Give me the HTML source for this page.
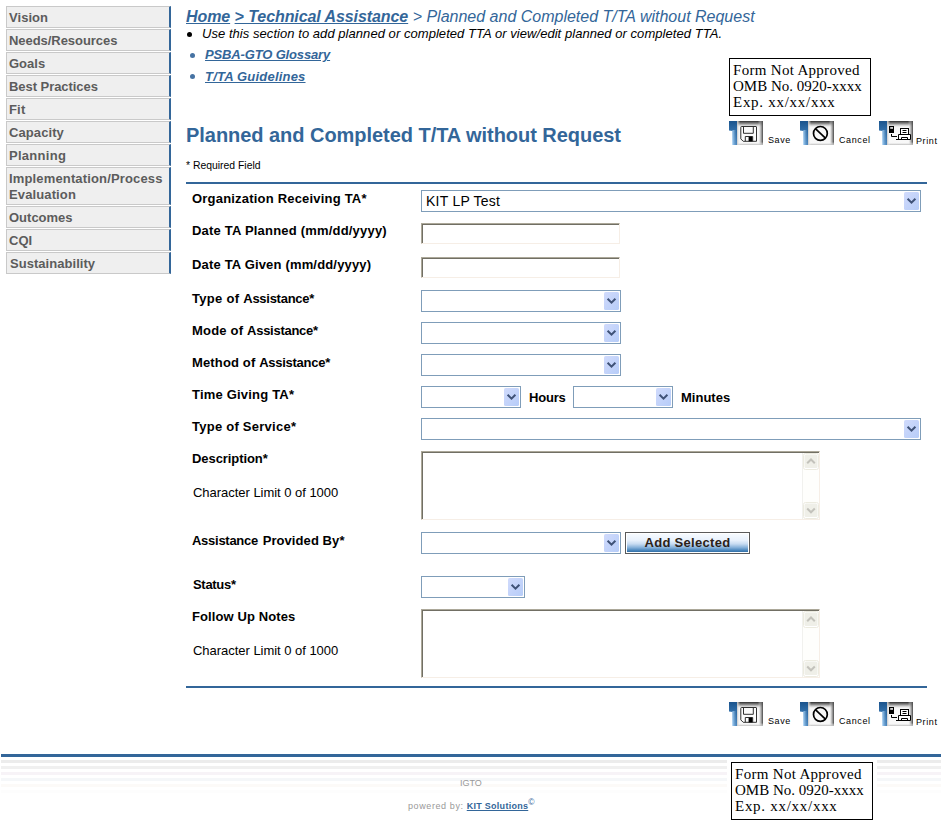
<!DOCTYPE html>
<html>
<head>
<meta charset="utf-8">
<title>Planned and Completed T/TA without Request</title>
<style>
html,body{margin:0;padding:0;background:#fff;}
body{width:943px;height:833px;position:relative;overflow:hidden;font-family:"Liberation Sans",sans-serif;color:#000;}
.abs{position:absolute;white-space:nowrap;}
.mi{position:absolute;left:6px;width:160px;background:#efefef;border:1px solid #c9c9c9;border-right:2px solid #336699;font-weight:bold;font-size:13px;color:#5c5c5c;line-height:16px;padding:3px 0 1px 2px;height:16px;white-space:nowrap;}
.mi.two{height:32px;}
.bc{left:186px;top:7px;font-size:16px;font-style:italic;color:#336699;line-height:19px;}
.bc b{text-decoration:underline;letter-spacing:-0.08px;}
.lk{font-size:13px;font-style:italic;font-weight:bold;color:#336699;text-decoration:underline;line-height:15px;}
.dot{position:absolute;border-radius:50%;width:5px;height:5px;}
h1{position:absolute;margin:0;left:186px;top:123px;font-size:20px;line-height:24px;color:#336699;font-weight:bold;white-space:nowrap;letter-spacing:-0.04px;}
.lbl{position:absolute;left:192px;font-size:13px;font-weight:bold;line-height:15px;white-space:nowrap;letter-spacing:0.2px;}
.cl{position:absolute;left:193px;font-size:13px;line-height:15px;white-space:nowrap;letter-spacing:-0.03px;}
.sel{position:absolute;box-sizing:border-box;background:#fff;border:1px solid #7f9db9;height:22px;left:421px;}
.sel svg{position:absolute;right:1px;top:1px;display:block;}
.sel span{position:absolute;left:4px;top:2px;font-size:14px;line-height:16px;white-space:nowrap;letter-spacing:0.24px;}
.inp{position:absolute;left:421px;box-sizing:border-box;background:#fff;border:1px solid;border-color:#aca899 #f6eee6 #f6eee6 #aca899;box-shadow:inset 1px 1px 0 #716f64;}
.ta{position:absolute;left:421px;width:399px;height:69px;box-sizing:border-box;background:#fff;border:1px solid;border-color:#aca899 #f6eee6 #f6eee6 #aca899;box-shadow:inset 1px 1px 0 #716f64;}
.ta .sb{position:absolute;right:0;top:1px;bottom:0;width:17px;background:#fefefc;border-left:1px solid #f1f1ee;box-sizing:border-box;}
.ta .sb svg{position:absolute;left:0;display:block;}
.omb{position:absolute;box-sizing:border-box;border:1px solid #000;background:#fff;font-family:"Liberation Serif",serif;font-size:15px;line-height:16px;padding:3px 0 0 3px;white-space:nowrap;width:142px;height:58px;}
.omb span{display:block;height:16px;}
.tb{position:absolute;font-size:9px;line-height:11px;white-space:nowrap;}
.ico{position:absolute;width:34px;height:24px;display:block;}
.btn{position:absolute;left:625px;top:532px;width:125px;height:22px;box-sizing:border-box;border:1px solid #5a5a5a;background:#fff;}
.btn div{position:absolute;left:1px;top:1px;right:1px;bottom:1px;background:linear-gradient(#f6faff 0%,#e8f1fc 35%,#c8dcf2 55%,#86b1da 75%,#4683ba 92%,#336fa5 100%);font-weight:bold;font-size:13px;line-height:15px;text-align:center;color:#2b2118;letter-spacing:0.3px;padding-top:1px;}
.ft{position:absolute;left:1px;width:940px;}
</style>
</head>
<body>
<!-- sidebar -->
<div class="mi" style="top:6px;letter-spacing:0.04px">Vision</div>
<div class="mi" style="top:29px;letter-spacing:-0.05px">Needs/Resources</div>
<div class="mi" style="top:52px;letter-spacing:0px">Goals</div>
<div class="mi" style="top:75px;letter-spacing:-0.05px">Best Practices</div>
<div class="mi" style="top:98px;letter-spacing:0.17px">Fit</div>
<div class="mi" style="top:121px;letter-spacing:0.09px">Capacity</div>
<div class="mi" style="top:144px;letter-spacing:0.28px">Planning</div>
<div class="mi two" style="top:167px;letter-spacing:0.125px"><span style="letter-spacing:0.15px">Implementation/Process</span><br>Evaluation</div>
<div class="mi" style="top:206px;letter-spacing:0px">Outcomes</div>
<div class="mi" style="top:229px;letter-spacing:0px">CQI</div>
<div class="mi" style="top:252px;letter-spacing:0.04px"><span style="margin-left:1px">Sustainability</span></div>

<!-- breadcrumb -->
<div class="abs bc"><b>Home</b> <b>&gt; Technical Assistance</b> &gt; Planned and Completed T/TA without Request</div>
<div class="dot" style="left:187px;top:32px;background:#000"></div>
<div class="abs" style="left:202px;top:26px;font-size:13px;font-style:italic;line-height:15px;letter-spacing:0.05px;">Use this section to add planned or completed TTA or view/edit planned or completed TTA.</div>
<div class="dot" style="left:190px;top:53px;background:#4673a3"></div>
<div class="abs lk" style="left:205px;top:47px;letter-spacing:-0.15px;">PSBA-GTO Glossary</div>
<div class="dot" style="left:190px;top:74px;background:#4673a3"></div>
<div class="abs lk" style="left:205px;top:69px;letter-spacing:0.2px;">T/TA Guidelines</div>

<h1>Planned and Completed T/TA without Request</h1>
<div class="abs" style="left:186px;top:160px;font-size:10.4px;line-height:12px;">* Required Field</div>

<!-- OMB boxes -->
<div class="omb" style="left:729px;top:58px;"><span style="letter-spacing:0.3px">Form Not Approved</span><span style="letter-spacing:0px">OMB No. 0920-xxxx</span><span style="letter-spacing:0.72px">Exp. xx/xx/xxx</span></div>

<!-- form rules -->
<div style="position:absolute;left:186px;top:182px;width:741px;height:2px;background:#336699"></div>
<div style="position:absolute;left:186px;top:686px;width:741px;height:2px;background:#336699"></div>
<!-- labels -->
<div class="lbl" style="left:192px;top:191px;letter-spacing:0.2px">Organization Receiving TA*</div>
<div class="lbl" style="left:192px;top:223px;letter-spacing:0.2px">Date TA Planned (mm/dd/yyyy)</div>
<div class="lbl" style="left:192px;top:257px;letter-spacing:0.17px">Date TA Given (mm/dd/yyyy)</div>
<div class="lbl" style="left:192px;top:291px;letter-spacing:0.3px">Type of <span style="letter-spacing:-0.27px">Assistance</span>*</div>
<div class="lbl" style="left:192px;top:323px;letter-spacing:0.2px">Mode of <span style="letter-spacing:-0.27px">Assistance</span>*</div>
<div class="lbl" style="left:192px;top:355px;letter-spacing:0.15px">Method of <span style="letter-spacing:-0.27px">Assistance</span>*</div>
<div class="lbl" style="left:192px;top:387px;letter-spacing:0.2px">Time Giving TA*</div>
<div class="lbl" style="left:192px;top:419px;letter-spacing:0.25px">Type of Service*</div>
<div class="lbl" style="left:192px;top:451px;letter-spacing:-0.07px">Description*</div>
<div class="lbl" style="left:192px;top:533px;letter-spacing:0.08px"><span style="letter-spacing:-0.27px">Assistance</span><span style="margin-left:1px">&nbsp;Provided By*</span></div>
<div class="lbl" style="left:193px;top:577px;letter-spacing:-0.3px">Status*</div>
<div class="lbl" style="left:192px;top:609px;letter-spacing:0.1px">Follow Up Notes</div>
<div class="lbl" style="left:529px;top:390px;letter-spacing:-0.2px">Hours</div>
<div class="lbl" style="left:681px;top:390px;letter-spacing:0px">Minutes</div>
<div class="cl" style="top:485px">Character Limit 0 of 1000</div>
<div class="cl" style="top:643px">Character Limit 0 of 1000</div>
<!-- controls -->
<div class="sel" style="top:190px;width:500px"><span>KIT LP Test</span><svg width="15" height="18" viewBox="0 0 15 18"><defs><linearGradient id="G" x1="0" y1="0" x2="1" y2="1"><stop offset="0" stop-color="#d1dbfc"/><stop offset="1" stop-color="#b6ccf8"/></linearGradient></defs><rect x="0" y="0" width="15" height="18" rx="1.5" fill="url(#G)"/><path d="M3.6 6.8 L7.5 10.7 L11.4 6.8" stroke="#3f5277" stroke-width="2" fill="none"/></svg></div>
<div class="sel" style="top:290px;width:200px"><svg width="15" height="18" viewBox="0 0 15 18"><rect x="0" y="0" width="15" height="18" rx="1.5" fill="url(#G)"/><path d="M3.6 6.8 L7.5 10.7 L11.4 6.8" stroke="#3f5277" stroke-width="2" fill="none"/></svg></div>
<div class="sel" style="top:322px;width:200px"><svg width="15" height="18" viewBox="0 0 15 18"><rect x="0" y="0" width="15" height="18" rx="1.5" fill="url(#G)"/><path d="M3.6 6.8 L7.5 10.7 L11.4 6.8" stroke="#3f5277" stroke-width="2" fill="none"/></svg></div>
<div class="sel" style="top:354px;width:200px"><svg width="15" height="18" viewBox="0 0 15 18"><rect x="0" y="0" width="15" height="18" rx="1.5" fill="url(#G)"/><path d="M3.6 6.8 L7.5 10.7 L11.4 6.8" stroke="#3f5277" stroke-width="2" fill="none"/></svg></div>
<div class="sel" style="top:386px;width:100px"><svg width="15" height="18" viewBox="0 0 15 18"><rect x="0" y="0" width="15" height="18" rx="1.5" fill="url(#G)"/><path d="M3.6 6.8 L7.5 10.7 L11.4 6.8" stroke="#3f5277" stroke-width="2" fill="none"/></svg></div>
<div class="sel" style="top:418px;width:500px"><svg width="15" height="18" viewBox="0 0 15 18"><rect x="0" y="0" width="15" height="18" rx="1.5" fill="url(#G)"/><path d="M3.6 6.8 L7.5 10.7 L11.4 6.8" stroke="#3f5277" stroke-width="2" fill="none"/></svg></div>
<div class="sel" style="top:532px;width:200px"><svg width="15" height="18" viewBox="0 0 15 18"><rect x="0" y="0" width="15" height="18" rx="1.5" fill="url(#G)"/><path d="M3.6 6.8 L7.5 10.7 L11.4 6.8" stroke="#3f5277" stroke-width="2" fill="none"/></svg></div>
<div class="sel" style="top:576px;width:104px"><svg width="15" height="18" viewBox="0 0 15 18"><rect x="0" y="0" width="15" height="18" rx="1.5" fill="url(#G)"/><path d="M3.6 6.8 L7.5 10.7 L11.4 6.8" stroke="#3f5277" stroke-width="2" fill="none"/></svg></div>
<div class="sel" style="left:573px;top:386px;width:100px"><svg width="15" height="18" viewBox="0 0 15 18"><rect x="0" y="0" width="15" height="18" rx="1.5" fill="url(#G)"/><path d="M3.6 6.8 L7.5 10.7 L11.4 6.8" stroke="#3f5277" stroke-width="2" fill="none"/></svg></div>
<div class="inp" style="top:223px;width:199px;height:21px"></div>
<div class="inp" style="top:257px;width:199px;height:21px"></div>
<div class="ta" style="top:451px"><div class="sb"><svg width="16" height="17" viewBox="0 0 16 17" style="top:0"><rect x="0.5" y="0.5" width="15" height="16" rx="2" fill="#fff" stroke="#ecebe0"/><rect x="1.5" y="1.5" width="13" height="13.5" rx="1.5" fill="#efefe8"/><path d="M4.2 10.3 L8 6.5 L11.8 10.3" stroke="#c3c2bb" stroke-width="2" fill="none"/></svg><svg width="16" height="17" viewBox="0 0 16 17" style="bottom:0"><rect x="0.5" y="0.5" width="15" height="16" rx="2" fill="#fff" stroke="#ecebe0"/><rect x="1.5" y="1.5" width="13" height="13.5" rx="1.5" fill="#efefe8"/><path d="M4.2 6.5 L8 10.3 L11.8 6.5" stroke="#c3c2bb" stroke-width="2" fill="none"/></svg></div></div>
<div class="ta" style="top:609px"><div class="sb"><svg width="16" height="17" viewBox="0 0 16 17" style="top:0"><rect x="0.5" y="0.5" width="15" height="16" rx="2" fill="#fff" stroke="#ecebe0"/><rect x="1.5" y="1.5" width="13" height="13.5" rx="1.5" fill="#efefe8"/><path d="M4.2 10.3 L8 6.5 L11.8 10.3" stroke="#c3c2bb" stroke-width="2" fill="none"/></svg><svg width="16" height="17" viewBox="0 0 16 17" style="bottom:0"><rect x="0.5" y="0.5" width="15" height="16" rx="2" fill="#fff" stroke="#ecebe0"/><rect x="1.5" y="1.5" width="13" height="13.5" rx="1.5" fill="#efefe8"/><path d="M4.2 6.5 L8 10.3 L11.8 6.5" stroke="#c3c2bb" stroke-width="2" fill="none"/></svg></div></div>
<div class="btn"><div>Add Selected</div></div>
<!-- toolbars -->
<svg class="ico" style="left:729px;top:121px" width="34" height="24" viewBox="0 0 34 24"><defs>
<linearGradient id="fb" x1="0" y1="0" x2="0" y2="1"><stop offset="0" stop-color="#1b548d"/><stop offset="0.45" stop-color="#3573ad"/><stop offset="1" stop-color="#7fb8ea"/></linearGradient>
<linearGradient id="fs" x1="0" y1="0" x2="1" y2="0"><stop offset="0" stop-color="#a8d2f5" stop-opacity="0.9"/><stop offset="1" stop-color="#1d5a96" stop-opacity="0.55"/></linearGradient>
<linearGradient id="gt" x1="0" y1="0" x2="0" y2="1"><stop offset="0" stop-color="#2c2c2c"/><stop offset="0.4" stop-color="#7a7a7a" stop-opacity="0.8"/><stop offset="1" stop-color="#ffffff" stop-opacity="0"/></linearGradient>
<linearGradient id="gr" x1="1" y1="0" x2="0" y2="0"><stop offset="0" stop-color="#444"/><stop offset="0.5" stop-color="#999" stop-opacity="0.6"/><stop offset="1" stop-color="#fff" stop-opacity="0"/></linearGradient>
<linearGradient id="gb" x1="0" y1="1" x2="0" y2="0"><stop offset="0" stop-color="#bbb"/><stop offset="1" stop-color="#fff" stop-opacity="0"/></linearGradient>
<linearGradient id="gl" x1="0" y1="0" x2="1" y2="0"><stop offset="0" stop-color="#c4c4c4"/><stop offset="1" stop-color="#fff" stop-opacity="0"/></linearGradient>
</defs><g id="base"><rect x="8" y="0" width="26" height="24" fill="#f8f8f8"/><rect x="8" y="0" width="26" height="7" fill="url(#gt)"/><rect x="29" y="0" width="5" height="24" fill="url(#gr)"/><rect x="8" y="21" width="26" height="3" fill="url(#gb)"/><rect x="8" y="0" width="3" height="24" fill="url(#gl)"/>
<path d="M0 0 H8 V24 H3.5 V10 L0 9.6 Z" fill="url(#fb)"/><rect x="3.5" y="9" width="4.5" height="15" fill="url(#fs)"/></g><g fill="none" stroke="#303030" stroke-width="1"><path d="M12.5 5.5 H27 Q27.5 5.5 27.5 6 V20.3 H14.2 L11.8 17.9 V6.2 Q11.8 5.5 12.5 5.5 Z" fill="#fbfbfb"/><path d="M14.5 5.5 V12.3 H24.3 V5.5"/><path d="M16.3 20.3 V15.5 H23.7 V20.3"/></g><rect x="19.6" y="15.8" width="3.8" height="4.6" fill="#000"/></svg>
<svg class="ico" style="left:800px;top:121px" width="34" height="24" viewBox="0 0 34 24"><use href="#base"/><g fill="none" stroke="#000" stroke-width="1.7"><circle cx="20.4" cy="12.4" r="6.9"/><path d="M15.4 7.6 L25.4 17.2"/></g></svg>
<svg class="ico" style="left:879px;top:121px" width="34" height="24" viewBox="0 0 34 24"><use href="#base"/><rect x="10" y="5" width="5" height="7" fill="#000"/><rect x="11.2" y="6.2" width="2.8" height="1.5" fill="#fff"/><g fill="none" stroke="#000" stroke-width="1"><path d="M12.5 13 V15.5 H18"/><rect x="21.5" y="7.5" width="8" height="6" fill="#fff"/><path d="M23.5 9.5 H27.5 M23.5 11.5 H27.5"/><path d="M19.5 18.5 V13.5 H31.5 V18.5" fill="#fff"/><path d="M17 18.5 H31.5"/><path d="M22.5 18.5 V16.5 H28.5 V18.5"/></g></svg>
<div class="tb" style="left:768px;top:135px;letter-spacing:0.6px">Save</div>
<div class="tb" style="left:839px;top:135px;letter-spacing:0.62px">Cancel</div>
<div class="tb" style="left:916px;top:136px;letter-spacing:0.6px">Print</div>
<svg class="ico" style="left:729px;top:702px" width="34" height="24" viewBox="0 0 34 24"><use href="#base"/><g fill="none" stroke="#303030" stroke-width="1"><path d="M12.5 5.5 H27 Q27.5 5.5 27.5 6 V20.3 H14.2 L11.8 17.9 V6.2 Q11.8 5.5 12.5 5.5 Z" fill="#fbfbfb"/><path d="M14.5 5.5 V12.3 H24.3 V5.5"/><path d="M16.3 20.3 V15.5 H23.7 V20.3"/></g><rect x="19.6" y="15.8" width="3.8" height="4.6" fill="#000"/></svg>
<svg class="ico" style="left:800px;top:702px" width="34" height="24" viewBox="0 0 34 24"><use href="#base"/><g fill="none" stroke="#000" stroke-width="1.7"><circle cx="20.4" cy="12.4" r="6.9"/><path d="M15.4 7.6 L25.4 17.2"/></g></svg>
<svg class="ico" style="left:879px;top:702px" width="34" height="24" viewBox="0 0 34 24"><use href="#base"/><rect x="10" y="5" width="5" height="7" fill="#000"/><rect x="11.2" y="6.2" width="2.8" height="1.5" fill="#fff"/><g fill="none" stroke="#000" stroke-width="1"><path d="M12.5 13 V15.5 H18"/><rect x="21.5" y="7.5" width="8" height="6" fill="#fff"/><path d="M23.5 9.5 H27.5 M23.5 11.5 H27.5"/><path d="M19.5 18.5 V13.5 H31.5 V18.5" fill="#fff"/><path d="M17 18.5 H31.5"/><path d="M22.5 18.5 V16.5 H28.5 V18.5"/></g></svg>
<div class="tb" style="left:768px;top:716px;letter-spacing:0.6px">Save</div>
<div class="tb" style="left:839px;top:716px;letter-spacing:0.62px">Cancel</div>
<div class="tb" style="left:916px;top:717px;letter-spacing:0.6px">Print</div>
<!-- footer -->
<div class="ft" style="top:754px;height:3px;background:#336699"></div>
<div class="ft" style="top:760px;height:3px;background:#ececec"></div>
<div class="ft" style="top:766px;height:3px;background:#f0f0f0"></div>
<div class="ft" style="top:772px;height:3px;background:#f7f3f7"></div>
<div class="ft" style="top:778px;height:3px;background:#f5f7f9"></div>
<div class="ft" style="top:784px;height:3px;background:#fcfaf8"></div>
<div class="ft" style="top:790px;height:3px;background:#fdfdfd"></div>
<div style="position:absolute;left:727px;top:757px;width:150px;height:67px;background:#fff"></div>
<div class="omb" style="left:731px;top:762px;"><span style="letter-spacing:0.3px">Form Not Approved</span><span style="letter-spacing:0px">OMB No. 0920-xxxx</span><span style="letter-spacing:0.72px">Exp. xx/xx/xxx</span></div>
<div class="abs" style="left:460px;top:778px;font-size:9px;line-height:11px;color:#999;">IGTO</div>
<div class="abs" style="left:408px;top:801px;font-size:9px;line-height:11px;color:#999;letter-spacing:0.6px;">powered by: <b style="color:#336699;text-decoration:underline;letter-spacing:0.27px;">KIT Solutions</b><span style="color:#336699;font-size:8.5px;position:relative;top:-4px;letter-spacing:0">&copy;</span></div>
</body>
</html>
